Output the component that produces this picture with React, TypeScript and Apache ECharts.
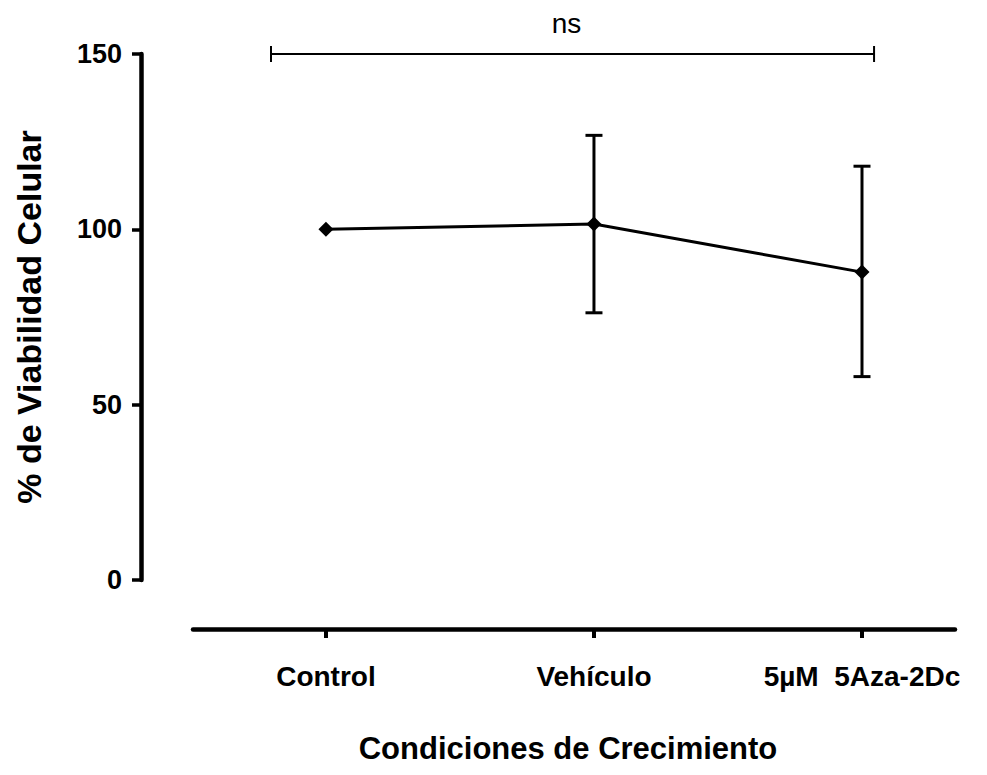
import React, { useEffect, useRef } from "react";
import * as echarts from "echarts";

const categories = ["Control", "Vehículo", "5µM  5Aza-2Dc"];
const meanValues = [100, 101.5, 87.8];
const errLow: (number | null)[] = [null, 76.2, 58.0];
const errHigh: (number | null)[] = [null, 126.8, 118.0];
const yTicks = [0, 50, 100, 150];
const bracketSpan = [-0.205, 2.045];
const bracketLevel = 150;
const bracketLabel = "ns";

const FONT = '"Liberation Sans", Arial, Helvetica, sans-serif';

export default function App() {
  const ref = useRef<HTMLDivElement>(null);
  useEffect(() => {
    if (!ref.current) return;
    const chart = echarts.init(ref.current, null, { renderer: "svg" });
    const idx = categories.map((_, i) => i);
    chart.setOption({
      animation: false,
      backgroundColor: "#ffffff",
      grid: { left: 193, right: 32, top: 54, bottom: 195, containLabel: false },
      xAxis: {
        type: "value",
        min: -0.496,
        max: 2.347,
        offset: 49,
        name: "Condiciones de Crecimiento",
        nameLocation: "middle",
        nameGap: 104,
        nameTextStyle: {
          fontFamily: FONT,
          fontWeight: "bold",
          fontSize: 31,
          color: "#000",
          padding: [0, 12, 0, 0],
        },
        axisLine: { show: true, onZero: false, lineStyle: { color: "#000", width: 4.5 } },
        axisTick: {
          show: true,
          length: 9,
          lineStyle: { color: "#000", width: 4 },
          customValues: idx,
        },
        axisLabel: {
          show: true,
          customValues: idx,
          margin: 33,
          fontFamily: FONT,
          fontWeight: "bold",
          fontSize: 28,
          color: "#000",
          formatter: (v: number) => categories[Math.round(v)] ?? "",
        },
        splitLine: { show: false },
      },
      yAxis: {
        type: "value",
        min: yTicks[0],
        max: yTicks[yTicks.length - 1],
        interval: yTicks[1] - yTicks[0],
        offset: 52,
        name: "% de Viabilidad Celular",
        nameLocation: "middle",
        nameGap: 95,
        nameRotate: 90,
        nameTextStyle: {
          fontFamily: FONT,
          fontWeight: "bold",
          fontSize: 34,
          color: "#000",
        },
        axisLine: { show: true, onZero: false, lineStyle: { color: "#000", width: 4.5 } },
        axisTick: { show: true, length: 9, lineStyle: { color: "#000", width: 3.5 } },
        axisLabel: {
          margin: 19,
          fontFamily: FONT,
          fontWeight: "bold",
          fontSize: 27,
          color: "#000",
        },
        splitLine: { show: false },
      },
      series: [
        {
          type: "custom",
          name: "error",
          clip: false,
          data: idx
            .filter((i) => errLow[i] != null && errHigh[i] != null)
            .map((i) => [i, errLow[i], errHigh[i]]),
          renderItem: (params: any, api: any) => {
            const x = api.value(0);
            const lo = api.coord([x, api.value(1)]);
            const hi = api.coord([x, api.value(2)]);
            const cap = 8.5;
            const style = { stroke: "#000", lineWidth: 3 };
            return {
              type: "group",
              children: [
                { type: "line", shape: { x1: lo[0], y1: lo[1], x2: hi[0], y2: hi[1] }, style },
                { type: "line", shape: { x1: hi[0] - cap, y1: hi[1], x2: hi[0] + cap, y2: hi[1] }, style },
                { type: "line", shape: { x1: lo[0] - cap, y1: lo[1], x2: lo[0] + cap, y2: lo[1] }, style },
              ],
            };
          },
          z: 2,
        },
        {
          type: "line",
          name: "mean",
          data: idx.map((i) => [i, meanValues[i]]),
          symbol: "diamond",
          symbolSize: 15,
          lineStyle: { color: "#000", width: 3 },
          itemStyle: { color: "#000" },
          z: 3,
        },
        {
          type: "custom",
          name: "bracket",
          clip: false,
          data: [[bracketSpan[0], bracketSpan[1], bracketLevel]],
          renderItem: (params: any, api: any) => {
            const a = api.coord([api.value(0), api.value(2)]);
            const b = api.coord([api.value(1), api.value(2)]);
            const h = 8;
            const style = { stroke: "#000", lineWidth: 2 };
            return {
              type: "group",
              children: [
                { type: "line", shape: { x1: a[0], y1: a[1], x2: b[0], y2: b[1] }, style },
                { type: "line", shape: { x1: a[0], y1: a[1] - h, x2: a[0], y2: a[1] + h }, style },
                { type: "line", shape: { x1: b[0], y1: b[1] - h, x2: b[0], y2: b[1] + h }, style },
                {
                  type: "text",
                  x: (a[0] + b[0]) / 2 - 6,
                  y: a[1] - 31,
                  style: {
                    text: bracketLabel,
                    fill: "#000",
                    font: `28px ${FONT}`,
                    align: "center",
                    verticalAlign: "middle",
                  },
                },
              ],
            };
          },
          z: 1,
        },
      ],
    });
    return () => chart.dispose();
  }, []);
  return (
    <div
      ref={ref}
      style={{ position: "fixed", left: 0, top: 0, width: 987, height: 775, background: "#fff" }}
    />
  );
}
